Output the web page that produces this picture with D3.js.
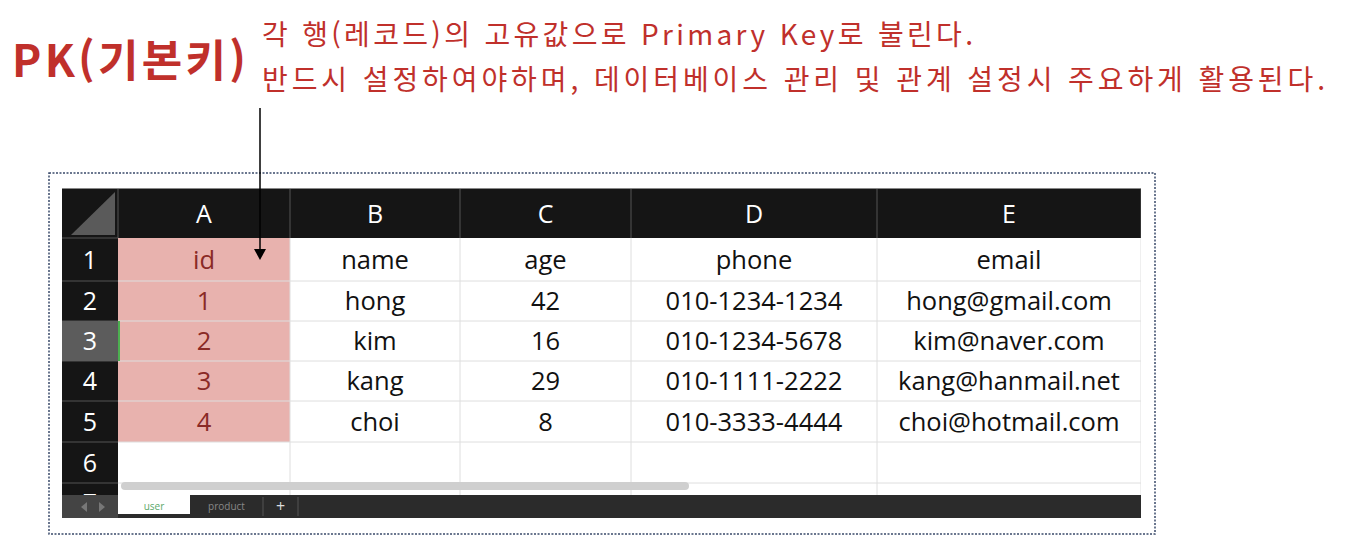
<!doctype html>
<html lang="ko">
<head>
<meta charset="utf-8">
<script src="https://cdn.jsdelivr.net/npm/d3@7"></script>
<style>
body { margin: 0; background: #fff; }
svg { display: block; font-family: "Noto Sans CJK KR", "Noto Sans", sans-serif; }
</style>
</head>
<body>
<svg id="chart" width="1346" height="546"></svg>
<script>
var columns = ["A", "B", "C", "D", "E"];
var fields = ["id", "name", "age", "phone", "email"];
var records = [
  ["1", "hong", "42", "010-1234-1234", "hong@gmail.com"],
  ["2", "kim", "16", "010-1234-5678", "kim@naver.com"],
  ["3", "kang", "29", "010-1111-2222", "kang@hanmail.net"],
  ["4", "choi", "8", "010-3333-4444", "choi@hotmail.com"]
];
var rowLabels = ["1", "2", "3", "4", "5", "6", "7"];
var tabs = ["user", "product", "+"];
var title = "PK(기본키)";
var notes = ["각 행(레코드)의 고유값으로 Primary Key로 불린다.",
             "반드시 설정하여야하며, 데이터베이스 관리 및 관계 설정시 주요하게 활용된다."];

var svg = d3.select("#chart");
var red = "#c0302b";

var colEdges = [118, 290, 460, 631, 877, 1141];
var rowEdges = [238, 281, 321, 361, 401, 442, 483, 523];
var x0 = 62, headTop = 188, bottom = 518;

svg.append("rect").attr("x", 49).attr("y", 173).attr("width", 1106).attr("height", 361)
  .attr("fill", "none").attr("stroke", "#3a4a6a").attr("stroke-width", 1.5).attr("stroke-dasharray", "2,1.5");

var g = svg.append("g");
g.append("defs").append("clipPath").attr("id", "sheet")
  .append("rect").attr("x", x0).attr("y", headTop).attr("width", 1141 - x0).attr("height", 495 - headTop);
var sheet = g.append("g").attr("clip-path", "url(#sheet)");

sheet.append("rect").attr("x", x0).attr("y", headTop).attr("width", 1141 - x0).attr("height", 495 - headTop).attr("fill", "#fff");

sheet.append("rect").attr("x", colEdges[0]).attr("y", rowEdges[0]).attr("width", colEdges[1] - colEdges[0])
  .attr("height", rowEdges[5] - rowEdges[0]).attr("fill", "#e8b2ae");

sheet.selectAll("line.h").data(rowEdges.slice(1)).join("line")
  .attr("x1", colEdges[0]).attr("x2", 1141).attr("y1", d => d).attr("y2", d => d)
  .attr("stroke", "#dedede");
sheet.selectAll("line.v").data(colEdges.slice(1)).join("line")
  .attr("x1", d => d).attr("x2", d => d).attr("y1", rowEdges[0]).attr("y2", 495)
  .attr("stroke", "#dedede");

sheet.append("rect").attr("x", x0).attr("y", headTop).attr("width", 1141 - x0).attr("height", rowEdges[0] - headTop).attr("fill", "#151515");
sheet.append("rect").attr("x", x0).attr("y", headTop).attr("width", colEdges[0] - x0).attr("height", 495 - headTop).attr("fill", "#151515");
sheet.append("path").attr("d", `M${colEdges[0] - 3},${headTop + 4} L${colEdges[0] - 3},${rowEdges[0] - 3} L${x0 + 9},${rowEdges[0] - 3} Z`).attr("fill", "#5a5a5a");
sheet.selectAll("line.hv").data(colEdges).join("line")
  .attr("x1", d => d).attr("x2", d => d).attr("y1", headTop).attr("y2", rowEdges[0]).attr("stroke", "#555");
sheet.selectAll("line.rh").data(rowEdges).join("line")
  .attr("x1", x0).attr("x2", colEdges[0]).attr("y1", d => d).attr("y2", d => d).attr("stroke", "#555");
sheet.append("line").attr("x1", x0).attr("x2", 1141).attr("y1", headTop).attr("y2", headTop).attr("stroke", "#888").attr("stroke-width", 2);

sheet.append("rect").attr("x", x0).attr("y", rowEdges[2]).attr("width", colEdges[0] - x0).attr("height", rowEdges[3] - rowEdges[2]).attr("fill", "#5c5c5c");
sheet.append("line").attr("x1", colEdges[0] + 1).attr("x2", colEdges[0] + 1).attr("y1", rowEdges[2]).attr("y2", rowEdges[3]).attr("stroke", "#4caf50").attr("stroke-width", 2);

var font = "'Open Sans', 'Noto Sans', sans-serif";
sheet.selectAll("text.col").data(columns).join("text")
  .attr("x", (d, i) => (colEdges[i] + colEdges[i + 1]) / 2).attr("y", 223)
  .attr("text-anchor", "middle").attr("fill", "#fff").attr("font-size", 25).attr("font-family", font).text(d => d);
sheet.selectAll("text.row").data(rowLabels).join("text")
  .attr("x", (x0 + colEdges[0]) / 2).attr("y", (d, i) => (rowEdges[i] + rowEdges[i + 1]) / 2 + 9)
  .attr("text-anchor", "middle").attr("fill", "#fff").attr("font-size", 25).attr("font-family", font).text(d => d);

var table = [fields].concat(records);
table.forEach(function (row, r) {
  sheet.selectAll(null).data(row).join("text")
    .attr("x", (d, i) => (colEdges[i] + colEdges[i + 1]) / 2)
    .attr("y", (rowEdges[r] + rowEdges[r + 1]) / 2 + 9)
    .attr("text-anchor", "middle").attr("font-size", 25.5).attr("font-family", font)
    .attr("fill", (d, i) => i === 0 ? "#8a2a26" : "#111").text(d => d);
});

sheet.append("rect").attr("x", 121).attr("y", 482).attr("width", 568).attr("height", 8).attr("rx", 4).attr("fill", "#cfcfcf");

g.append("rect").attr("x", x0).attr("y", 495).attr("width", 1141 - x0).attr("height", bottom - 495).attr("fill", "#2b2b2b");
g.append("rect").attr("x", x0).attr("y", 495).attr("width", colEdges[0] - x0).attr("height", bottom - 495).attr("fill", "#444");
g.append("path").attr("d", "M81,507 L87,502 L87,512 Z").attr("fill", "#777");
g.append("path").attr("d", "M99,502 L105,507 L99,512 Z").attr("fill", "#777");
var tabEdges = [118, 190, 263, 298];
g.append("rect").attr("x", 118).attr("y", 495).attr("width", 72).attr("height", 19).attr("fill", "#fff");
g.selectAll("text.tab").data(tabs).join("text")
  .attr("x", (d, i) => (tabEdges[i] + tabEdges[i + 1]) / 2).attr("y", (d, i) => i === 2 ? 512 : 510)
  .attr("text-anchor", "middle").attr("font-family", font)
  .attr("font-size", (d, i) => i === 2 ? 16 : 10)
  .attr("fill", (d, i) => i === 0 ? "#5aa86a" : i === 2 ? "#ddd" : "#888").text(d => d);
g.selectAll("line.tab").data(tabEdges.slice(2)).join("line")
  .attr("x1", d => d).attr("x2", d => d).attr("y1", 497).attr("y2", 516).attr("stroke", "#555");

svg.append("text").attr("x", 12).attr("y", 77).attr("fill", red).attr("font-size", 44).attr("font-weight", "bold")
  .attr("textLength", 234).attr("font-family", "'Noto Sans CJK KR', sans-serif").text(title);
var noteLen = [711, 1063];
svg.selectAll("text.note").data(notes).join("text")
  .attr("x", 262).attr("y", (d, i) => 45 + i * 45).attr("fill", red).attr("font-size", 28)
  .attr("textLength", (d, i) => noteLen[i])
  .attr("font-family", "'Noto Sans CJK KR', sans-serif").text(d => d);

svg.append("line").attr("x1", 260).attr("x2", 260).attr("y1", 108).attr("y2", 250).attr("stroke", "#000").attr("stroke-width", 1.5);
svg.append("path").attr("d", "M254,249 L266,249 L260,260 Z").attr("fill", "#000");
</script>
</body>
</html>
